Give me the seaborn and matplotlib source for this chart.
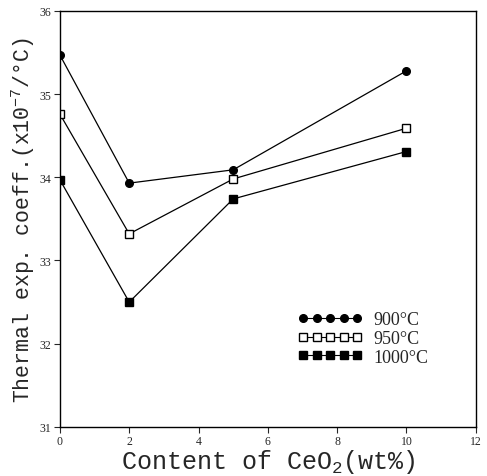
import numpy as np
import pandas as pd
import matplotlib
matplotlib.use("Agg")
import matplotlib.pyplot as plt
import seaborn as sns
from matplotlib.lines import Line2D


# Values
ceo2 = [0, 2, 5, 10]
temps = ["900°C", "950°C", "1000°C"]
coeff_900 = [35.47, 33.93, 34.09, 35.28]
coeff_950 = [34.76, 33.32, 33.98, 34.59]
coeff_1000 = [33.97, 32.50, 33.74, 34.31]
markers = {"900°C": "o", "950°C": "s", "1000°C": "s"}
faces = {"900°C": "black", "950°C": "white", "1000°C": "black"}


# Builds one long dataframe out of the small lists
def makeFrame():
    rows = []
    for t, vals in zip(temps, [coeff_900, coeff_950, coeff_1000]):
        for x, y in zip(ceo2, vals):
            rows.append({"CeO2": x, "coeff": y, "temp": t})
    return pd.DataFrame(rows)


def drawChart(df):
    sns.set_style("ticks")
    plt.rcParams["font.family"] = ["Liberation Serif", "DejaVu Serif"]
    plt.rcParams["mathtext.default"] = "regular"
    fig = plt.figure(figsize=(4.87, 4.77), dpi=100)
    ax = fig.add_axes([0.123, 0.103, 0.854, 0.872])

    for t in temps:
        sub = df[df["temp"] == t]
        sns.lineplot(x="CeO2", y="coeff", data=sub, ax=ax, color="black",
                     linewidth=0.9, marker=markers[t], markersize=5.5,
                     markerfacecolor=faces[t], markeredgecolor="black",
                     markeredgewidth=1.0, legend=False)

    ax.set_xlim(0, 12)
    ax.set_ylim(31, 36)
    ax.set_xticks(range(0, 13, 2))
    ax.set_yticks(range(31, 37))
    ax.tick_params(labelsize=8.5, length=4, width=0.8, direction="out", pad=2)
    for s in ax.spines.values():
        s.set_linewidth(1.0)
        s.set_color("black")

    mono = ["Liberation Mono", "DejaVu Sans Mono"]
    ax.set_xlabel("Content of CeO$_2$(wt%)", fontsize=18, family=mono, labelpad=0)
    ax.set_ylabel("Thermal exp. coeff.(x10$^{-7}$/°C)", fontsize=15.5, family=mono, labelpad=2)

    handles = [Line2D([], [], color="black", linewidth=0.8, marker=markers[t],
                      markersize=5.5, markerfacecolor=faces[t],
                      markeredgecolor="black") for t in temps]
    ax.legend(handles, temps, numpoints=5, frameon=False, loc="upper left",
              bbox_to_anchor=(0.55, 0.30), fontsize=13, handlelength=3.6,
              handletextpad=0.6, labelspacing=0.1, borderpad=0)

    fig.savefig("out.png", dpi=100)


if __name__ == "__main__":
    df = makeFrame()
    drawChart(df)
